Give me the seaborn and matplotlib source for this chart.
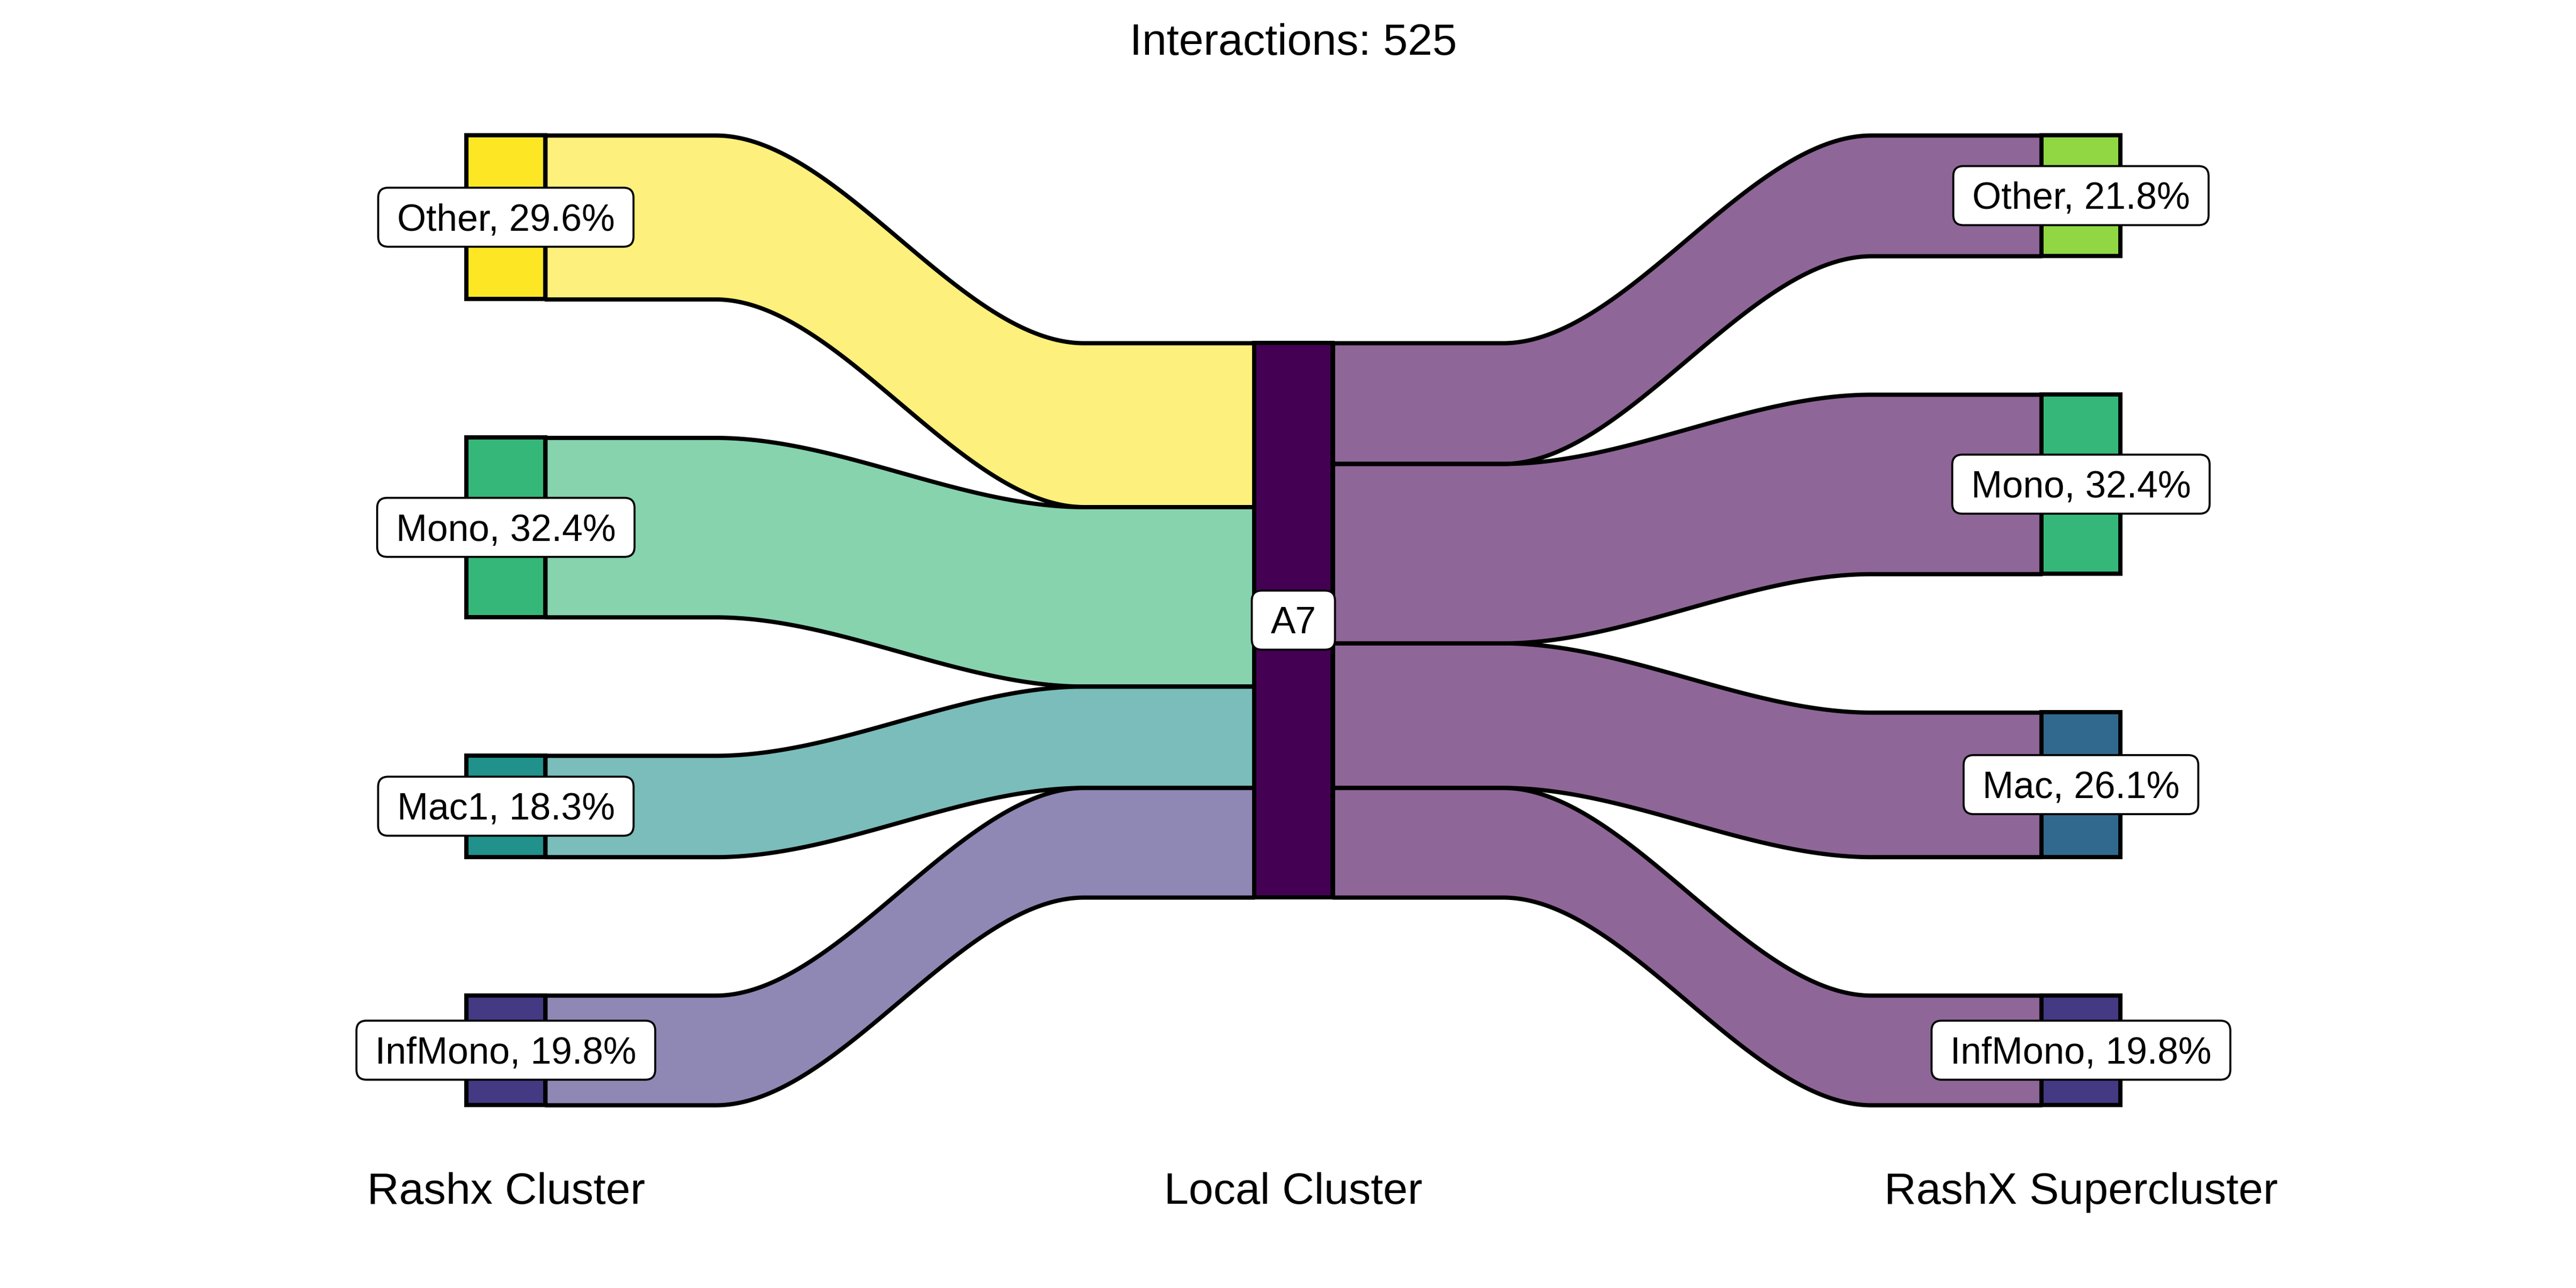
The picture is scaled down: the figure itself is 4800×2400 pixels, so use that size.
import numpy as np
import matplotlib
matplotlib.use("Agg")
import matplotlib.pyplot as plt
import seaborn as sns
from matplotlib.colors import to_rgba
from matplotlib.patches import FancyBboxPatch
from matplotlib.transforms import IdentityTransform

# 데이터
axis_names = ['Rashx Cluster', 'Local Cluster', 'RashX Supercluster']
left_nodes = ['Other', 'Mono', 'Mac1', 'InfMono']
left_pct = [29.6, 32.4, 18.3, 19.8]
mid_nodes = ['A7']
right_nodes = ['Other', 'Mono', 'Mac', 'InfMono']
right_pct = [21.8, 32.4, 26.1, 19.8]
n_interactions = 525

# viridis 순서 (7 levels)
color_keys = ['A7', 'InfMono', 'Mac', 'Mac1', 'Mono', 'Other_r', 'Other_l']

sns.set_theme(style='white')
plt.rcParams['font.family'] = ['Liberation Sans', 'DejaVu Sans']
plt.rcParams['text.color'] = 'black'

cmap = sns.color_palette('viridis', as_cmap=True)
pal = dict(zip(color_keys, [cmap(v) for v in np.linspace(0, 1, len(color_keys))]))
left_cols = [pal['Other_l'], pal['Mono'], pal['Mac1'], pal['InfMono']]
right_cols = [pal['Other_r'], pal['Mono'], pal['Mac'], pal['InfMono']]
mid_col = pal['A7']

gap = 25
node_w = 0.1
lw = 1.9
fs_lab = 16.7
fs_big = 19.8


def stack_tops(vals):
    tops, y = [], 0
    for v in vals:
        tops.append(y)
        y += v + gap
    return np.array(tops)


def ease(t, k=0.24):
    u = np.clip((t - k) / (1 - 2 * k), 0, 1)
    return u * u * (3 - 2 * u)


left_top = stack_tops(left_pct)
right_top = stack_tops(right_pct)
span = left_top[-1] + left_pct[-1]
mid_h = sum(left_pct)
mid_top = (span - mid_h) / 2
mid_left = mid_top + np.concatenate([[0], np.cumsum(left_pct)[:-1]])
mid_right = mid_top + np.concatenate([[0], np.cumsum(right_pct)[:-1]])

fig = plt.figure(figsize=(16, 8), dpi=300)
ax = fig.add_axes([0, 0, 1, 1])
ax.set_xlim(0.3577, 3.6286)
ax.set_ylim(208.14, -24.42)
ax.axis('off')

# flows
def flow(x0, x1, ya, yb, h, col):
    x = np.linspace(x0, x1, 300)
    top = ya + (yb - ya) * ease((x - x0) / (x1 - x0))
    ax.fill_between(x, top, top + h, facecolor=to_rgba(col, 0.6),
                    edgecolor='black', linewidth=lw, zorder=1)

for i in range(len(left_pct)):
    flow(1 + node_w / 2, 2 - node_w / 2, left_top[i], mid_left[i], left_pct[i], left_cols[i])
for i in range(len(right_pct)):
    flow(2 + node_w / 2, 3 - node_w / 2, mid_right[i], right_top[i], right_pct[i], mid_col)

# nodes
ax.bar([1] * 4, left_pct, bottom=left_top, width=node_w, color=left_cols,
       edgecolor='black', linewidth=lw, zorder=3)
ax.bar([2], [mid_h], bottom=[mid_top], width=node_w, color=[mid_col],
       edgecolor='black', linewidth=lw, zorder=3)
ax.bar([3] * 4, right_pct, bottom=right_top, width=node_w, color=right_cols,
       edgecolor='black', linewidth=lw, zorder=3)

# labels
labels = []
for name, p, y in zip(left_nodes, left_pct, left_top):
    labels.append((f'{name}, {p:.1f}%', 1, y + p / 2))
labels.append((mid_nodes[0], 2, mid_top + mid_h / 2))
for name, p, y in zip(right_nodes, right_pct, right_top):
    labels.append((f'{name}, {p:.1f}%', 3, y + p / 2))

texts = []
for s, x, y in labels:
    t = ax.annotate(s, (x, y), xytext=(0, -0.358 * fs_lab), textcoords='offset points',
                    ha='center', va='baseline', fontsize=fs_lab, color='black', zorder=6)
    texts.append((t, x, y))

for i, name in enumerate(axis_names):
    ax.text(i + 1, 192.9, name, ha='center', va='baseline', fontsize=fs_big, color='black')
ax.text(2, -14.53, f'Interactions: {n_interactions}', ha='center', va='baseline',
        fontsize=fs_big, color='black')

fig.canvas.draw()
px = fig.dpi / 72
for t, x, y in texts:
    bb = t.get_window_extent()
    cx, cy = ax.transData.transform((x, y))
    w = bb.width + 2 * 8.4 * px
    h = 26.4 * px
    box = FancyBboxPatch((cx - w / 2, cy - h / 2), w, h,
                         boxstyle=f'round,pad=0,rounding_size={4.5 * px}',
                         transform=IdentityTransform(), facecolor='white',
                         edgecolor='black', linewidth=0.9, zorder=5)
    ax.add_artist(box)

fig.savefig('out.png', dpi=300, facecolor='white')
